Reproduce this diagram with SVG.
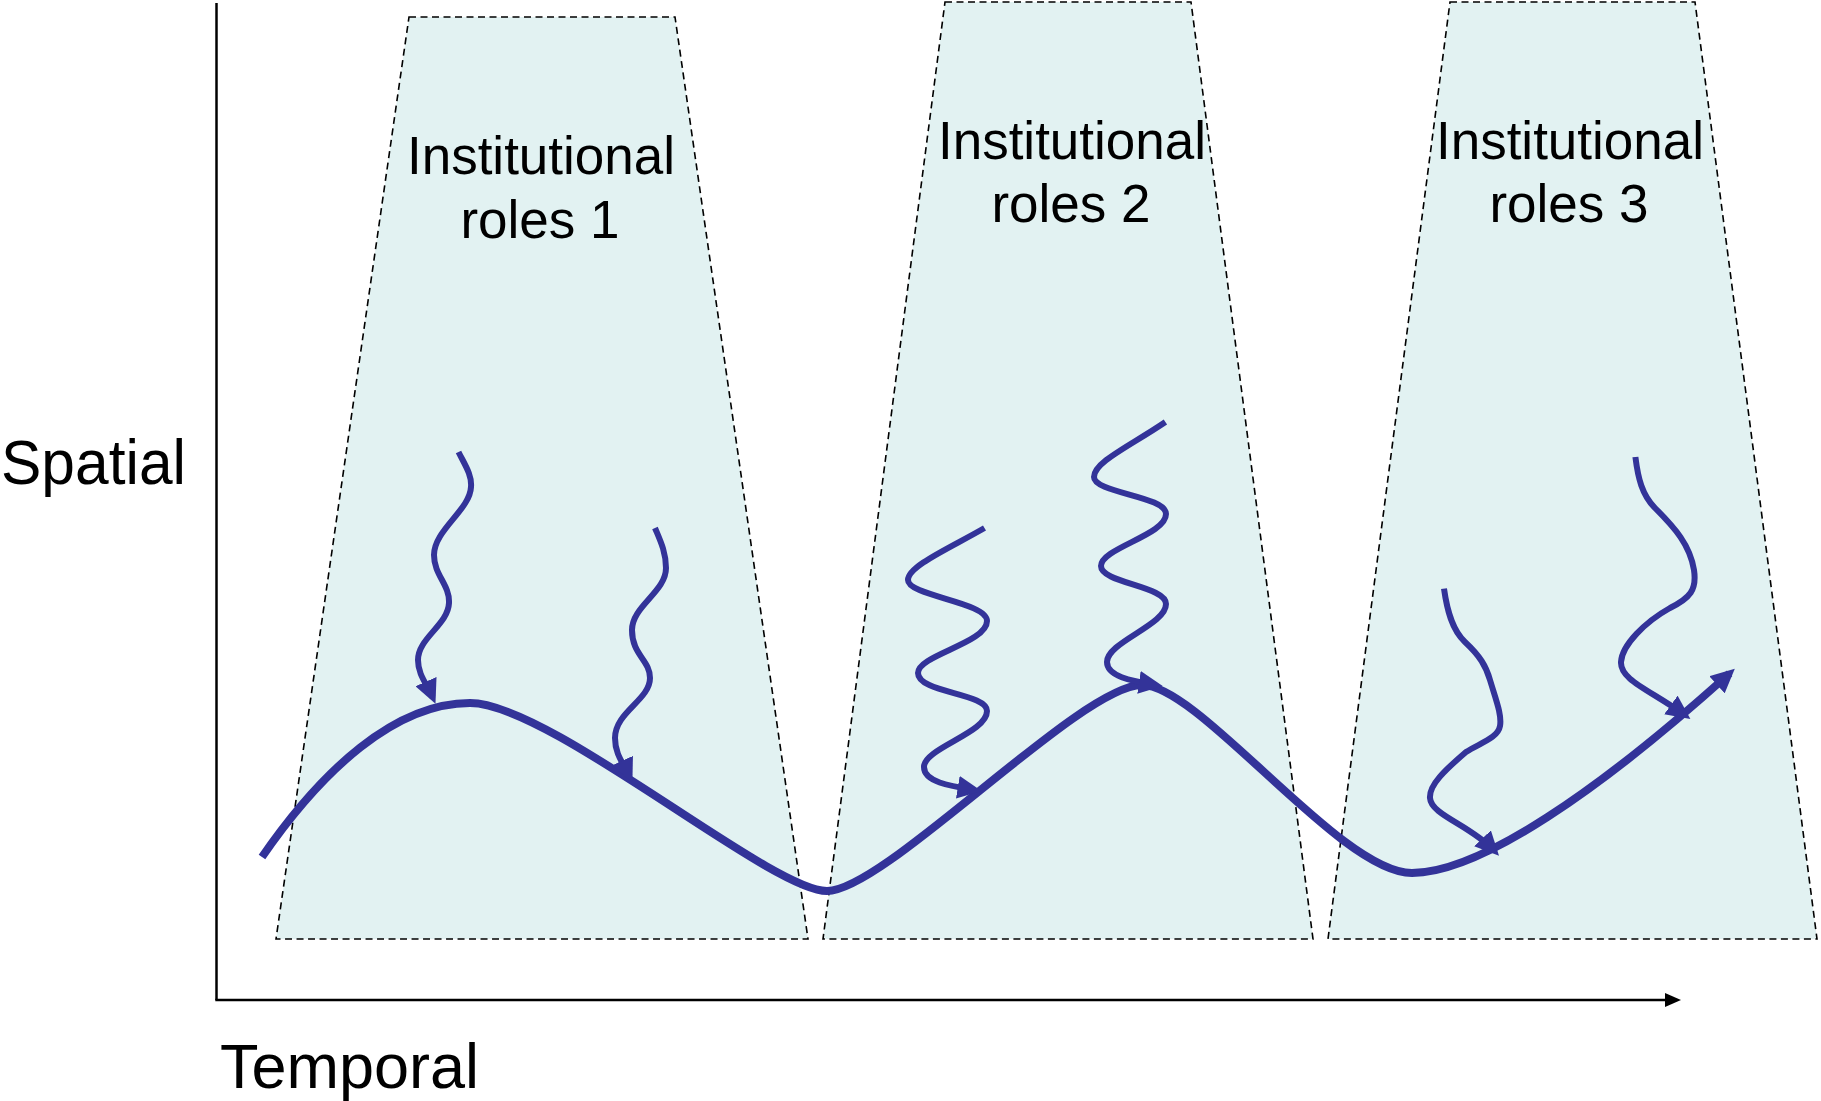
<svg xmlns="http://www.w3.org/2000/svg" width="1821" height="1101" viewBox="0 0 1821 1101">
<style>
.trap{fill:#e2f2f2;stroke:#000;stroke-width:1.6;stroke-dasharray:7 4.5}
.lbl{font-family:"Liberation Sans",Arial,sans-serif;font-size:53px;fill:#000;text-anchor:middle}
.ax{font-family:"Liberation Sans",Arial,sans-serif;font-size:63px;fill:#000}
.axis{stroke:#000;stroke-width:2.5;fill:none}
.main{fill:none;stroke:#333399;stroke-width:8;marker-end:url(#ah)}
.sq{fill:none;stroke:#333399;stroke-width:6;marker-end:url(#ah)}
</style>
<defs>
<marker id="ah" markerUnits="userSpaceOnUse" markerWidth="24" markerHeight="23" viewBox="0 0 24 23" refX="17" refY="11.5" orient="auto">
<path d="M0,0 L24,11.5 L0,23 z" fill="#333399"/>
</marker>
</defs>
<rect width="1821" height="1101" fill="#fff"/>
<g id="role1">
<polygon class="trap" points="409,17 675,17 808,939 276,939"/>
<text class="lbl" x="541" y="174">Institutional</text>
<text class="lbl" x="540" y="238">roles 1</text>
</g>
<g id="role2">
<polygon class="trap" points="945,2 1191,2 1313,939 823,939"/>
<text class="lbl" x="1072" y="158.5">Institutional</text>
<text class="lbl" x="1071" y="222">roles 2</text>
</g>
<g id="role3">
<polygon class="trap" points="1450,2 1695,2 1817,939 1328,939"/>
<text class="lbl" x="1570" y="158.5">Institutional</text>
<text class="lbl" x="1569" y="222">roles 3</text>
</g>
<g id="axes">
<line class="axis" x1="216.5" y1="3" x2="216.5" y2="1000"/>
<line class="axis" x1="215.3" y1="1000" x2="1668" y2="1000"/>
<polygon points="1665,993 1681,1000 1665,1007" fill="#000"/>
<text class="ax" x="1" y="484" textLength="185" lengthAdjust="spacingAndGlyphs">Spatial</text>
<text class="ax" x="220" y="1088">Temporal</text>
</g>
<g id="connectors">
<path class="main" d="M262,857 C322,770 395,703 470,703 C550,703 770,891 827,891 C885,891 1080,685 1142,685 C1200,685 1340,873 1412,873 C1480,873 1600,790 1729.6,673.4"/>
<path class="sq" d="M458.5,452 C465,465 472,475 471,487 C470,510 434,530 434,555 C434,575 450,585 449,603 C448,625 418,638 418,660 C418,675 427,684 432.7,697.2"/>
<path class="sq" d="M655,528 C660,540 666,552 666,568 C666,592 632,606 632,630 C632,655 650,660 650,678 C650,700 615,712 615,738 C615,755 624,764 629.5,776.1"/>
<path class="sq" d="M984.5,528 C950,548 908,566 908,580 C908,596 987,602 987,621 C987,643 918,655 918,673 C918,693 987,693 987,711 C987,733 924,748 924,767 C924,782 950,786 974.6,790"/>
<path class="sq" d="M1165.4,422 C1130,446 1094,462 1094,477 C1094,493 1166,496 1166,514 C1166,535 1101,548 1101,566 C1101,583 1166,586 1166,604 C1166,625 1107,642 1107,662 C1107,676 1130,681 1155.8,684.9"/>
<path class="sq" d="M1444,588.7 C1447,610 1452,630 1465,642 C1480,656 1486,666 1490,680 C1496,700 1502,715 1500,726 C1498,738 1480,743 1466,752 C1445,770 1429,785 1430,798 C1431,815 1470,825 1494.2,850.6"/>
<path class="sq" d="M1635.4,457 C1638,478 1642,495 1655,508 C1675,528 1690,545 1694,570 C1697,590 1690,598 1670,608 C1645,622 1622,645 1621,662 C1620,680 1650,690 1684.7,714.9"/>
</g>
</svg>
